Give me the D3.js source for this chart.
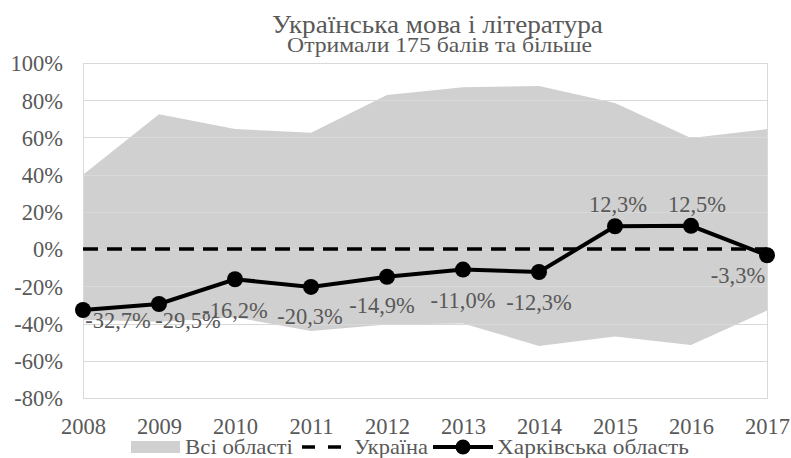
<!DOCTYPE html>
<html><head><meta charset="utf-8">
<script src="https://cdn.jsdelivr.net/npm/d3@7"></script>
</head><body style="margin:0;background:#fff">
<svg id="c" width="791" height="458"></svg>
<script>
const years = [2008,2009,2010,2011,2012,2013,2014,2015,2016,2017];
const allMax = [0.40,0.725,0.645,0.625,0.828,0.87,0.876,0.785,0.597,0.645];
const allMin = [-0.38,-0.39,-0.366,-0.44,-0.405,-0.40,-0.52,-0.47,-0.515,-0.33];
const ukraine = [0,0,0,0,0,0,0,0,0,0];
const kharkiv = [-0.327,-0.295,-0.162,-0.203,-0.149,-0.110,-0.123,0.123,0.125,-0.033];
const yTicks = [-0.8,-0.6,-0.4,-0.2,0,0.2,0.4,0.6,0.8,1.0];
const title = "Українська мова і література";
const subtitle = "Отримали 175 балів та більше";
const legendNames = ["Всі області","Україна","Харківська область"];

// label placement offsets (layout only)
const labelOff = [[35,18],[29,24],[0,39],[-1,37],[-5,36],[0,38],[0,38],[3,-14],[6,-14],[-29,28]];

const FONT = "Liberation Serif";
const TXT = "#595959";
const svg = d3.select("#c");
const L=83,R=767,T=63,B=398;
const x = d3.scalePoint().domain(years).range([L,R]);
const y = d3.scaleLinear().domain([-0.8,1.0]).range([B,T]);

// text helper: place text and stretch horizontally to a target width
function fitText(str, px, py, size, width, anchor){
  const g = svg.append("g").attr("transform",`translate(${px},${py})`);
  const t = g.append("text").attr("x",0).attr("y",0).attr("text-anchor",anchor)
    .attr("font-family",FONT).style("font-size",size+"px").attr("fill",TXT).text(str);
  const cur = t.node().getComputedTextLength();
  if (cur>0) t.attr("transform",`scale(${width/cur},1)`);
  return t;
}

// band
const area = d3.area().x((d,i)=>x(years[i])).y0((d,i)=>y(allMin[i])).y1((d,i)=>y(allMax[i]));
svg.append("path").datum(allMax).attr("d",area).attr("fill","#d0d0d0");

// grid
svg.append("g").selectAll("line").data(yTicks).join("line")
  .attr("x1",L).attr("x2",R).attr("y1",d=>Math.round(y(d))+0.5).attr("y2",d=>Math.round(y(d))+0.5)
  .attr("stroke","#d9d9d9").attr("stroke-width",1);
svg.append("rect").attr("x",L+0.5).attr("y",T+0.5).attr("width",R-L).attr("height",Math.round(B-T))
  .attr("fill","none").attr("stroke","#d9d9d9");

// y axis
const ya = svg.append("g").attr("transform",`translate(${63},0)`)
  .call(d3.axisLeft(y).tickValues(yTicks).tickSize(0).tickPadding(0).tickFormat(d=>Math.round(d*100)+"%"));
ya.select(".domain").remove();
ya.selectAll("text").attr("font-family",FONT).style("font-size","22.5px").attr("fill",TXT).attr("dy","0.35em");

// x axis
const xa = svg.append("g").attr("transform",`translate(0,${B})`)
  .call(d3.axisBottom(x).tickSize(0).tickPadding(0));
xa.select(".domain").remove();
xa.selectAll("text").attr("font-family",FONT).style("font-size","22.5px").attr("fill",TXT).attr("y",36).attr("dy",0);

// Ukraine
svg.append("path").datum(ukraine)
  .attr("d",d3.line().x((d,i)=>x(years[i])).y(d=>y(d)))
  .attr("fill","none").attr("stroke","#000").attr("stroke-width",3.5).attr("stroke-dasharray","15,9");

// Kharkiv
svg.append("path").datum(kharkiv)
  .attr("d",d3.line().x((d,i)=>x(years[i])).y(d=>y(d)))
  .attr("fill","none").attr("stroke","#000").attr("stroke-width",4);
svg.append("g").selectAll("circle").data(kharkiv).join("circle")
  .attr("cx",(d,i)=>x(years[i])).attr("cy",d=>y(d)).attr("r",8).attr("fill","#000");

// labels
const fmt = v => (v<0?"-":"") + Math.abs(v*100).toFixed(1).replace(".",",") + "%";
svg.append("g").selectAll("text").data(kharkiv).join("text")
  .attr("x",(d,i)=>x(years[i])+labelOff[i][0]).attr("y",(d,i)=>y(d)+labelOff[i][1])
  .attr("text-anchor","middle").attr("font-family",FONT).style("font-size","22.5px").attr("fill",TXT).text(d=>fmt(d));

// title
fitText(title, 437.5, 33, 25, 331, "middle");
fitText(subtitle, 439.5, 52, 21, 305, "middle");

// legend
const lg = svg.append("g");
lg.append("rect").attr("x",131).attr("y",441).attr("width",49).attr("height",12).attr("fill","#d0d0d0");
fitText(legendNames[0], 185, 454, 22, 108, "start");
lg.append("line").attr("x1",302).attr("x2",341).attr("y1",447).attr("y2",447)
  .attr("stroke","#000").attr("stroke-width",3.5).attr("stroke-dasharray","13,13");
fitText(legendNames[1], 354, 454, 22, 74, "start");
lg.append("line").attr("x1",433).attr("x2",493).attr("y1",447).attr("y2",447)
  .attr("stroke","#000").attr("stroke-width",4);
lg.append("circle").attr("cx",463).attr("cy",447).attr("r",7.5).attr("fill","#000");
fitText(legendNames[2], 497, 454, 22, 192, "start");
</script></body></html>
